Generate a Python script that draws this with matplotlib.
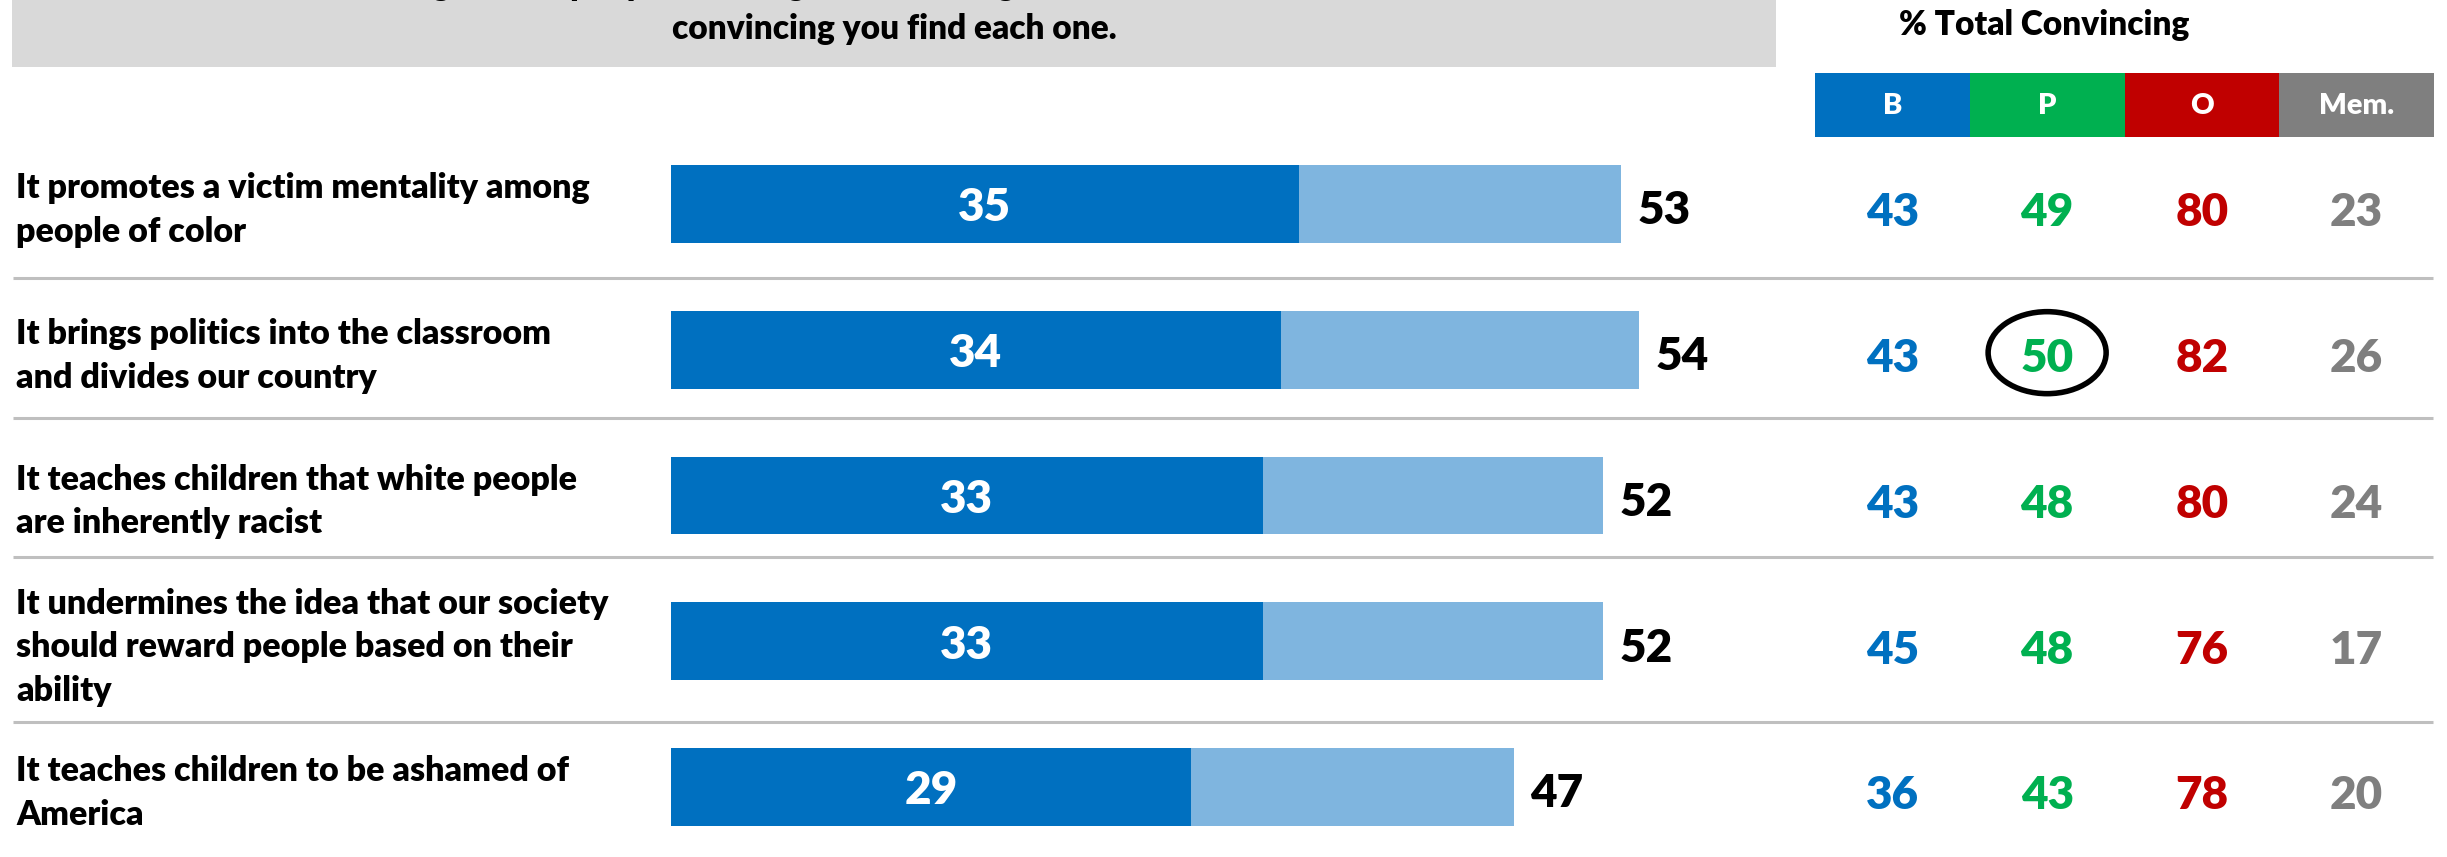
import matplotlib
matplotlib.use("Agg")
import matplotlib.pyplot as plt
from matplotlib.patches import Rectangle, Ellipse
from matplotlib import transforms

plt.rcParams['font.family'] = ['Lato', 'DejaVu Sans']
plt.rcParams['font.weight'] = 'heavy'

# ---- data ----
statements = [
    "It promotes a victim mentality among\npeople of color",
    "It brings politics into the classroom\nand divides our country",
    "It teaches children that white people\nare inherently racist",
    "It undermines the idea that our society\nshould reward people based on their\nability",
    "It teaches children to be ashamed of\nAmerica",
]
very_convincing = [35, 34, 33, 33, 29]
total_convincing = [53, 54, 52, 52, 47]

groups = ['B', 'P', 'O', 'Mem.']
group_b = [43, 43, 43, 45, 36]
group_p = [49, 50, 48, 48, 43]
group_o = [80, 82, 80, 76, 78]
group_mem = [23, 26, 24, 17, 20]
group_colors = ['#0070C0', '#00B050', '#C00000', '#7F7F7F']

highlight_row = 1
highlight_group = 'P'

title_lines = ["Below are some arguments people make against teaching these ideas in schools. Please tell us how",
               "convincing you find each one."]
panel_title = "% Total Convincing"

# ---- figure ----
W, H = 2447, 857
fig = plt.figure(figsize=(W / 100, H / 100), dpi=100)

# layout layer in pixel coordinates
lay = fig.add_axes([0, 0, 1, 1])
lay.set_xlim(0, W)
lay.set_ylim(H, 0)
lay.axis('off')

lay.add_patch(Rectangle((12, 0), 1764, 67, color='#D9D9D9', lw=0))
# first title line is cut off at the top edge, as in the source slide
lay.text(894, -15, title_lines[0], ha='center', va='center', fontsize=24, color='black')
lay.text(894, 29, title_lines[1], ha='center', va='center', fontsize=24, color='black')

for yy in [278, 418, 557, 722]:
    lay.plot([13, 2433], [yy, yy], color='#BFBFBF', lw=2.2, solid_capstyle='butt')

# right panel header
col_left, col_w = 1815, 154.75
lay.text(2044, 25, panel_title, ha='center', va='center', fontsize=24, color='black')
for j, (g, c) in enumerate(zip(groups, group_colors)):
    lay.add_patch(Rectangle((col_left + j * col_w, 73), col_w, 64, color=c, lw=0))
    lay.text(col_left + (j + 0.5) * col_w, 106, g, ha='center', va='center',
             fontsize=21, color='white')

# bar axes
row_top, row_step = 204 - 145.75 / 2, 145.75
n = len(statements)
bottom_px = row_top + n * row_step
ax_b = 1 - bottom_px / H
ax_h = (n * row_step) / H
px_per_unit = 17.93
ax = fig.add_axes([671 / W, ax_b, 1076 / W, ax_h])
ax.set_xlim(0, 1076 / px_per_unit)
ax.set_ylim(n - 0.5, -0.5)
ax.axis('off')

rows = list(range(n))
ax.barh(rows, total_convincing, height=0.535, color='#7FB5DF', lw=0)
ax.barh(rows, very_convincing, height=0.535, color='#0070C0', lw=0)

down = transforms.offset_copy(ax.transData, fig=fig, x=0, y=-4, units='dots')
down2 = transforms.offset_copy(ax.transData, fig=fig, x=0, y=-7, units='dots')
for i in rows:
    ax.text(very_convincing[i] / 2, i, str(very_convincing[i]), transform=down,
            ha='center', va='center', fontsize=33, color='white')
    ax.text(total_convincing[i] + 0.9, i, str(total_convincing[i]), transform=down2,
            ha='left', va='center', fontsize=33, color='black')

# statement labels
for i, s in enumerate(statements):
    y = ax.transData.transform((0, i))[1]
    lay.text(16, H - y + 6, s, ha='left', va='center', fontsize=24.5, color='black',
             linespacing=1.45)

# right table
tab = fig.add_axes([col_left / W, ax_b, 4 * col_w / W, ax_h])
tab.set_xlim(-0.5, 3.5)
tab.set_ylim(n - 0.5, -0.5)
tab.axis('off')
tdown = transforms.offset_copy(tab.transData, fig=fig, x=0, y=-9, units='dots')
for j, vals in enumerate([group_b, group_p, group_o, group_mem]):
    for i, v in enumerate(vals):
        tab.text(j, i, str(v), transform=tdown, ha='center', va='center',
                 fontsize=33, color=group_colors[j])

hj = groups.index(highlight_group)
tab.add_patch(Ellipse((hj, highlight_row + 0.02), 118 / col_w, 82 / row_step,
                      fill=False, ec='black', lw=4))

fig.savefig('out.png', dpi=100)
